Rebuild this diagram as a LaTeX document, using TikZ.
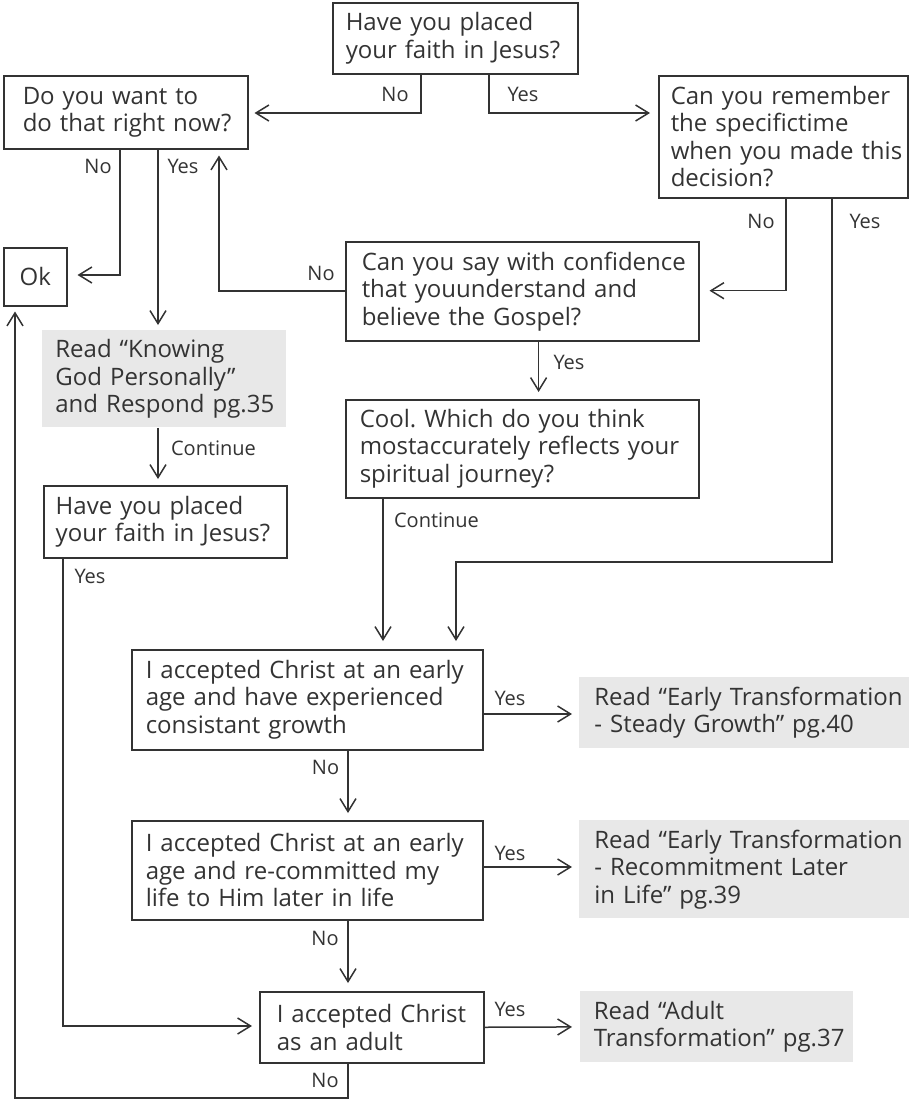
\documentclass[tikz,border=0pt]{standalone}
\usepackage{fontspec}
\setmainfont{Open Sans}
\usetikzlibrary{arrows.meta}
\definecolor{ink}{HTML}{333333}
\definecolor{shade}{HTML}{E8E8E8}
\newcommand\oneline[1]{\mbox{#1}}
\frenchspacing
\begin{document}
\begin{tikzpicture}[x=0.5pt,y=-0.5pt,
  qbox/.style={draw=ink, line width=0.75pt, align=left, inner xsep=6.5pt, inner ysep=0pt,
    anchor=north west, text=ink, font=\fontsize{12}{13.75}\selectfont},
  rbox/.style={fill=shade, align=left, inner xsep=7pt, inner ysep=0pt,
    anchor=north west, text=ink, font=\fontsize{12}{13.75}\selectfont},
  lab/.style={inner sep=0pt, text=ink, font=\fontsize{10}{12}\selectfont},
  arr/.style={draw=ink, line width=0.75pt, -{Straight Barb[length=6.5pt,width=8pt]}, shorten >=3.5pt}
]
\useasboundingbox (0,0) rectangle (909,1099);

% boxes
\node[qbox, minimum width=122.5pt, minimum height=35.5pt, text width=109.5pt] (A) at (332,2)
  {\oneline{Have you placed}\\\oneline{your faith in Jesus?}};
\node[qbox, minimum width=122pt, minimum height=36.5pt, text width=103pt, inner xsep=9.5pt] (B) at (3,75)
  {\oneline{Do you want to}\\\oneline{do that right now?}};
\node[qbox, minimum width=124.5pt, minimum height=61pt, text width=112.5pt, inner xsep=6pt] (C) at (658,75)
  {\oneline{Can you remember}\\\oneline{the specifictime}\\\oneline{when you made this}\\\oneline{decision?}};
\node[qbox, minimum width=31.5pt, minimum height=29pt, align=center, inner xsep=0pt] (Ok) at (3,247) {Ok};
\node[qbox, minimum width=176.5pt, minimum height=49.5pt, text width=160.5pt, inner xsep=8pt] (D) at (345,241)
  {\oneline{Can you say with confidence}\\\oneline{that youunderstand and}\\\oneline{believe the Gospel?}};
\node[qbox, minimum width=176.5pt, minimum height=49pt, text width=162.5pt, inner xsep=7pt] (E) at (345,399)
  {\oneline{Cool. Which do you think}\\\oneline{mostaccurately reflects your}\\\oneline{spiritual journey?}};
\node[rbox, minimum width=122pt, minimum height=48.5pt, text width=109pt, inner xsep=6.5pt] (F) at (42,330)
  {\oneline{Read “Knowing}\\\oneline{God Personally”}\\\oneline{and Respond pg.35}};
\node[qbox, minimum width=121.5pt, minimum height=36pt, text width=109.5pt, inner xsep=6pt] (G) at (43,485)
  {\oneline{Have you placed}\\\oneline{your faith in Jesus?}};
\node[qbox, minimum width=175.5pt, minimum height=50pt, text width=161.5pt, inner xsep=7pt] (H) at (131,649)
  {\oneline{I accepted Christ at an early}\\\oneline{age and have experienced}\\\oneline{consistant growth}};
\node[rbox, minimum width=165pt, minimum height=35.5pt, text width=150pt, inner xsep=7.5pt] (I) at (579,677)
  {\oneline{Read “Early Transformation}\\\oneline{- Steady Growth” pg.40}};
\node[qbox, minimum width=175.5pt, minimum height=49.5pt, text width=161.5pt, inner xsep=7pt] (J) at (131,820)
  {\oneline{I accepted Christ at an early}\\\oneline{age and re-committed my}\\\oneline{life to Him later in life}};
\node[rbox, minimum width=165pt, minimum height=49pt, text width=150pt, inner xsep=7.5pt] (K) at (579,820)
  {\oneline{Read “Early Transformation}\\\oneline{- Recommitment Later}\\\oneline{in Life” pg.39}};
\node[qbox, minimum width=112pt, minimum height=35.5pt, text width=95pt, inner xsep=8.5pt] (L) at (259,991)
  {\oneline{I accepted Christ}\\\oneline{as an adult}};
\node[rbox, minimum width=136.5pt, minimum height=35.5pt, text width=123pt, inner xsep=6.75pt] (M) at (580,991)
  {\oneline{Read “Adult}\\\oneline{Transformation” pg.37}};

% bend coordinates
\coordinate (anb) at (421,113);
\coordinate (ayb) at (489,113);
\coordinate (bnb) at (120,275);
\coordinate (byx) at (158,0);
\coordinate (cnb) at (786,290.7);
\coordinate (cy1) at (832,562);
\coordinate (cy2) at (456,562);
\coordinate (dnb) at (219,291);
\coordinate (dyx) at (538.6,0);
\coordinate (ecx) at (383,0);
\coordinate (gyb) at (63,1026);
\coordinate (hyb) at (0,714);
\coordinate (hnx) at (348,0);
\coordinate (jyb) at (0,867);
\coordinate (ln1) at (348,1098);
\coordinate (ln2) at (15,1098);

% connectors
\draw[arr, shorten >=3pt] (A.south -| anb) |- (B.east |- anb);
\draw[arr, shorten >=4pt] (A.south -| ayb) |- (C.west |- ayb);
\draw[arr, shorten >=5pt] (B.south -| bnb) |- (Ok.east |- bnb);
\draw[arr, shorten >=2.5pt] (B.south -| byx) -- (F.north -| byx);
\draw[arr, shorten >=5pt] (C.south -| cnb) |- (D.east |- cnb);
\draw[arr, shorten >=4pt] (C.south -| cy1) -- (cy1) -- (cy2) -- (H.north -| cy2);
\draw[arr, shorten >=3pt] (D.west |- dnb) -- (dnb) -- (B.south -| dnb);
\draw[arr] (D.south -| dyx) -- (E.north -| dyx);
\draw[arr, shorten >=4pt] (E.south -| ecx) -- (H.north -| ecx);
\draw[arr, shorten >=3pt] (F.south -| byx) -- (G.north -| byx);
\draw[arr] (G.south -| gyb) |- (L.west |- gyb);
\draw[arr] (H.east |- hyb) -- (I.west |- hyb);
\draw[arr] (H.south -| hnx) -- (J.north -| hnx);
\draw[arr] (J.east |- jyb) -- (K.west |- jyb);
\draw[arr, shorten >=4pt] (J.south -| hnx) -- (L.north -| hnx);
\draw[arr, shorten >=4pt] (L.east) -- (M.west);
\draw[arr, shorten >=2.5pt] (L.south -| ln1) -- (ln1) -- (ln2) -- (Ok.south -| ln2);

% labels
\node[lab] (lA1) at (395,94) {No};
\node[lab] (lA2) at (523,94) {Yes};
\node[lab] (lB1) at (98,166) {No};
\node[lab] (lB2) at (183,166) {Yes};
\node[lab] (lC1) at (761,221) {No};
\node[lab] (lC2) at (865,221) {Yes};
\node[lab] (lD1) at (321,273) {No};
\node[lab] (lD2) at (569,362) {Yes};
\node[lab] (lE1) at (436.5,520) {Continue};
\node[lab] (lF1) at (213.5,448) {Continue};
\node[lab] (lG1) at (90,576) {Yes};
\node[lab] (lH1) at (510,698) {Yes};
\node[lab] (lH2) at (325.5,767) {No};
\node[lab] (lJ1) at (510,853) {Yes};
\node[lab] (lJ2) at (325,938) {No};
\node[lab] (lL1) at (510,1009) {Yes};
\node[lab] (lL2) at (325,1080) {No};
\end{tikzpicture}
\end{document}
